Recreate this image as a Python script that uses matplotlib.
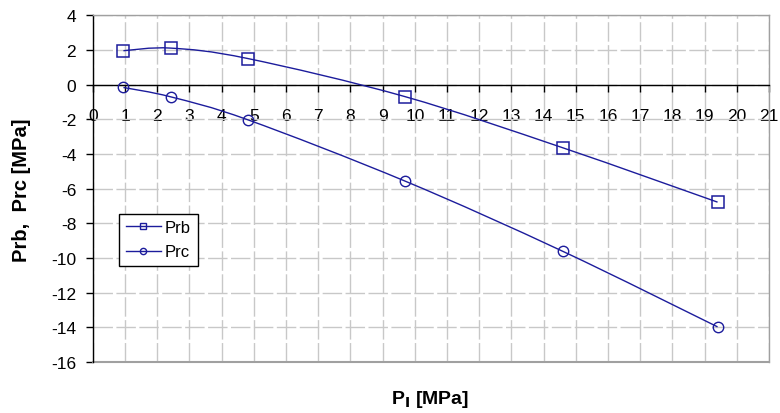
import matplotlib
matplotlib.use("Agg")
import matplotlib.pyplot as plt
from matplotlib.path import Path
from matplotlib.patches import PathPatch
from matplotlib.lines import Line2D
import numpy as np

plt.rcParams['font.family'] = ['Liberation Sans', 'DejaVu Sans']

p_i = [0.95, 2.42, 4.81, 9.7, 14.6, 19.4]
prb = [1.95, 2.1, 1.5, -0.7, -3.65, -6.78]
prc = [-0.17, -0.71, -2.03, -5.57, -9.62, -13.97]
xticks = list(range(0, 22))
yticks = list(range(-16, 5, 2))

COL = '#1c1c9c'

fig = plt.figure(figsize=(7.8, 4.14), dpi=100)
ax = fig.add_axes([0.119, 0.123, 0.867, 0.838])
ax.set_xlim(0, 21)
ax.set_ylim(-16, 4)


def smooth_path(xs, ys):
    pts = np.column_stack([xs, ys]).astype(float)
    n = len(pts)
    verts = [pts[0]]
    codes = [Path.MOVETO]
    for i in range(n - 1):
        p0 = pts[i - 1] if i > 0 else pts[i]
        p1 = pts[i]
        p2 = pts[i + 1]
        p3 = pts[i + 2] if i + 2 < n else pts[i + 1]
        c1 = p1 + (p2 - p0) / 6.0
        c2 = p2 - (p3 - p1) / 6.0
        verts += [c1, c2, p2]
        codes += [Path.CURVE4] * 3
    return Path(verts, codes)


for ys in (prb, prc):
    ax.add_patch(PathPatch(smooth_path(p_i, ys), facecolor='none',
                           edgecolor=COL, lw=1.0, zorder=3))

ax.plot(p_i, prb, ls='none', marker='s', ms=8.5, mfc='none', mec=COL,
        mew=1.1, zorder=4)
ax.plot(p_i, prc, ls='none', marker='o', ms=7.5, mfc='none', mec=COL,
        mew=1.0, zorder=4)

# grid
ax.set_xticks(xticks)
ax.set_yticks(yticks)
ax.grid(True, color='#c8c8c8', lw=1.0, ls=(0, (14, 2.5)), zorder=0)

# spines
ax.spines['left'].set_color('black')
ax.spines['left'].set_linewidth(1.0)
ax.spines['bottom'].set_position(('data', 0))
ax.spines['bottom'].set_color('black')
ax.spines['bottom'].set_linewidth(1.0)
for s in ('top', 'right'):
    ax.spines[s].set_color('#a0a0a0')
    ax.spines[s].set_linewidth(1.0)
# bottom border of plot area
ax.plot([0, 1], [0, 0], transform=ax.transAxes, color='#a0a0a0', lw=1.5,
        clip_on=False, zorder=2)

ax.tick_params(axis='x', direction='out', length=5, width=1.0, pad=12,
               labelsize=12.5, colors='black')
ax.tick_params(axis='y', direction='out', length=5, width=1.0, pad=7,
               labelsize=12.5, colors='black')
ax.set_xticklabels([str(v) for v in xticks])
ax.set_yticklabels([str(v) for v in yticks])

fig.text(430 / 780, 1 - 400 / 414, r'P$_\mathbf{I}$ [MPa]', fontsize=14,
         fontweight='bold', ha='center', va='center')
fig.text(22 / 780, 1 - 190 / 414, 'Prb,  Prc [MPa]', fontsize=14.5,
         fontweight='bold', ha='center', va='center', rotation=90)

handles = [
    Line2D([], [], color=COL, lw=1.0, marker='s', ms=5, mfc='none',
           mec=COL, mew=1.0),
    Line2D([], [], color=COL, lw=1.0, marker='o', ms=4.5, mfc='none',
           mec=COL, mew=1.0),
]
leg = ax.legend(handles, ['Prb', 'Prc'], loc='upper left',
                bbox_to_anchor=(0.039, 0.428), fontsize=12, frameon=True,
                fancybox=False, edgecolor='black', framealpha=1,
                handlelength=2.1, handletextpad=0.25, borderpad=0.4,
                labelspacing=0.55, borderaxespad=0)
leg.get_frame().set_linewidth(1.0)

fig.savefig('out.png', dpi=100)
